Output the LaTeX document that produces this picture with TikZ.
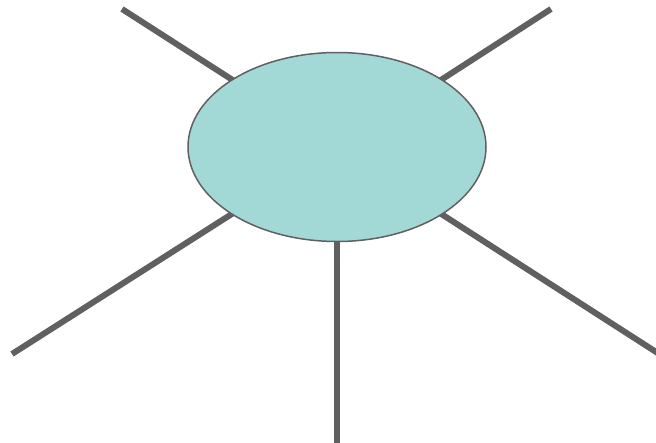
\documentclass[tikz,border=0pt]{standalone}
\usetikzlibrary{shapes.geometric,backgrounds}
\definecolor{hubfill}{HTML}{A2D9D7}
\definecolor{spokegray}{HTML}{606060}
\tikzset{
  hub/.style={ellipse, draw=spokegray, line width=1.5pt, fill=hubfill, minimum width=298pt, minimum height=189pt, inner sep=0pt},
  spoke/.style={draw=spokegray, line width=6pt}
}
\begin{document}
\begin{tikzpicture}[x=1pt,y=-1pt]
\useasboundingbox (0,0) rectangle (656,442);
\node[hub] (e) at (337,147) {};
\coordinate (ul) at (122,9);
\coordinate (ur) at (551,9);
\coordinate (ll) at (12,354);
\coordinate (lr) at (660,354.5);
\coordinate (b) at (337,446);
\begin{pgfonlayer}{background}
\draw[spoke] (ul) -- (e.center);
\draw[spoke] (ur) -- (e.center);
\draw[spoke] (ll) -- (e.center);
\draw[spoke] (lr) -- (e.center);
\draw[spoke] (b) -- (e.center);
\end{pgfonlayer}
\end{tikzpicture}
\end{document}
